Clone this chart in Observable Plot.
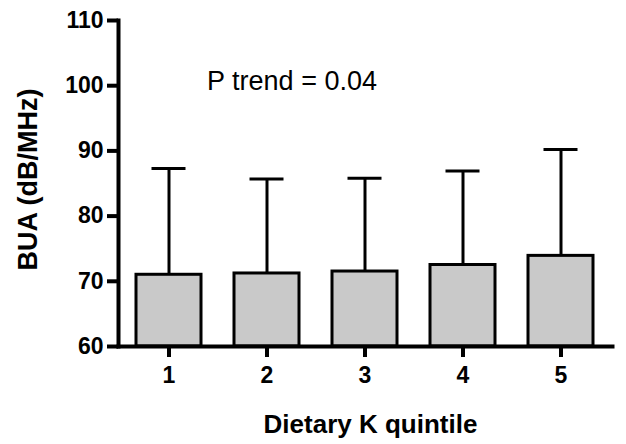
<!DOCTYPE html>
<html>
<head>
<meta charset="utf-8">
<script src="https://cdn.jsdelivr.net/npm/d3@7"></script>
<script src="https://cdn.jsdelivr.net/npm/@observablehq/plot@0.6"></script>
<style>
  html, body { margin: 0; padding: 0; background: #fff; }
  svg { display: block; }
</style>
</head>
<body>
<div id="chart"></div>
<script>
const quintiles = ["1", "2", "3", "4", "5"];
const meanBUA = [71.0, 71.2, 71.5, 72.5, 73.9];
const upperBUA = [87.3, 85.7, 85.8, 86.9, 90.2];
const yTicks = [60, 70, 80, 90, 100, 110];
const yTitle = "BUA (dB/MHz)";
const xTitle = "Dietary K quintile";
const annotation = ["P trend = 0.04"];
const annotationX = "2";
const annotationY = 100.6;

const data = quintiles.map((q, i) => ({q, mean: meanBUA[i], upper: upperBUA[i]}));
const font = "Liberation Sans, Arial, Helvetica, sans-serif";

const chart = Plot.plot({
  width: 626,
  height: 444,
  marginTop: 20,
  marginLeft: 118,
  marginRight: 14,
  marginBottom: 98,
  style: {fontFamily: font, background: "#fff", color: "#000"},
  x: {domain: quintiles, paddingInner: 0.333, paddingOuter: 0.1667, axis: null},
  y: {domain: [60, 110], axis: null},
  marks: [
    Plot.ruleX(data, {x: "q", y1: "mean", y2: "upper", stroke: "#000", strokeWidth: 3}),
    Plot.tickY(data, {x: "q", y: "upper", stroke: "#000", strokeWidth: 3, insetLeft: 15.5, insetRight: 15.5}),
    Plot.barY(data, {x: "q", y1: 60, y2: "mean", fill: "#c9c9c9", stroke: "#000", strokeWidth: 3}),
    Plot.axisY({ticks: yTicks, tickSize: 11, tickPadding: 4, strokeWidth: 4, fontSize: 23, fontWeight: "bold", label: null, tickFormat: d => String(d)}),
    Plot.axisX({tickSize: 11, tickPadding: 9, strokeWidth: 4, fontSize: 23, fontWeight: "bold", label: null}),
    Plot.frame({anchor: "left", stroke: "#000", strokeWidth: 4, strokeLinecap: "square"}),
    Plot.frame({anchor: "bottom", stroke: "#000", strokeWidth: 4}),
    Plot.text([yTitle], {frameAnchor: "left", textAnchor: "middle", rotate: -90, dx: -90, dy: -4, fontSize: 27, fontWeight: "bold", lineAnchor: "middle"}),
    Plot.text([xTitle], {frameAnchor: "bottom", dy: 78, dx: 5, fontSize: 26, fontWeight: "bold", lineAnchor: "middle"}),
    Plot.text(annotation, {x: () => annotationX, y: () => annotationY, dx: 25, fontSize: 27, lineAnchor: "middle"})
  ]
});
document.getElementById("chart").appendChild(chart);
</script>
</body>
</html>
